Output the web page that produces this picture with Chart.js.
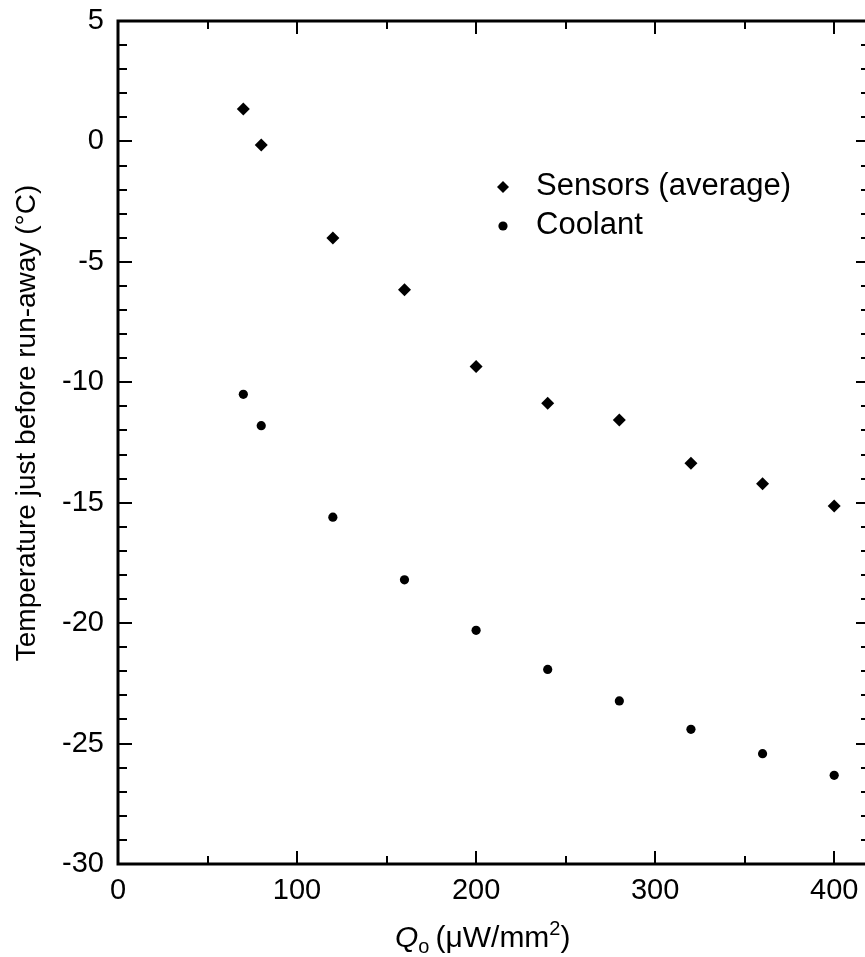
<!DOCTYPE html>
<html>
<head>
<meta charset="utf-8">
<script src="https://cdn.jsdelivr.net/npm/chart.js@4.4.0/dist/chart.umd.min.js"></script>
<style>
    html, body { margin: 0; padding: 0; background: #fff; overflow: hidden; }
    #wrap { width: 880px; height: 957px; }
</style>
</head>
<body>
<div id="wrap"><canvas id="tempChart" width="880" height="957"></canvas></div>
<script>
// Heat load Q0 (uW/mm2)
const qValues = [70, 80, 120, 160, 200, 240, 280, 320, 360, 400];
// Temperatures just before run-away (C)
const sensorTemps = [1.35, -0.15, -4.01, -6.16, -9.34, -10.87, -11.57, -13.36, -14.21, -15.14];
const coolantTemps = [-10.5, -11.8, -15.6, -18.2, -20.3, -21.92, -23.23, -24.41, -25.42, -26.32];

// Axis ticks
const xMajorTicks = [0, 100, 200, 300, 400];
const xMinorTicks = [50, 150, 250, 350];
const yMajorTicks = [-30, -25, -20, -15, -10, -5, 0, 5];
const yMinorTicks = [];
for (let v = -29; v < 5; v++) {
    if (v % 5 !== 0) yMinorTicks.push(v);
}

const FONT = '"Liberation Sans", Arial, Helvetica, sans-serif';

// Frame with inward ticks on all four sides, plus titles and legend
const framePlugin = {
    id: 'frameTicks',
    afterDraw(chart) {
        const { ctx, chartArea: a, scales } = chart;
        const x = scales.x, y = scales.y;
        ctx.save();
        ctx.strokeStyle = '#000';
        ctx.lineWidth = 2;
        ctx.beginPath();
        const tickX = (v, len) => {
            const px = Math.round(x.getPixelForValue(v));
            ctx.moveTo(px, a.bottom); ctx.lineTo(px, a.bottom - len);
            ctx.moveTo(px, a.top); ctx.lineTo(px, a.top + len);
        };
        const tickY = (v, len) => {
            const py = Math.round(y.getPixelForValue(v));
            ctx.moveTo(a.left, py); ctx.lineTo(a.left + len, py);
            ctx.moveTo(a.right, py); ctx.lineTo(a.right - len, py);
        };
        xMajorTicks.forEach(v => tickX(v, 13));
        xMinorTicks.forEach(v => tickX(v, 8));
        yMajorTicks.forEach(v => tickY(v, 14));
        yMinorTicks.forEach(v => tickY(v, 9));
        ctx.stroke();

        ctx.lineWidth = 3;
        ctx.strokeRect(a.left, a.top, a.right - a.left, a.bottom - a.top);

        // x axis title: Q_o (uW/mm^2)
        ctx.fillStyle = '#000';
        ctx.textBaseline = 'alphabetic';
        ctx.textAlign = 'left';
        let cx = 395;
        const base = 947;
        ctx.font = 'italic 30px ' + FONT;
        ctx.fillText('Q', cx, base);
        cx += ctx.measureText('Q').width;
        ctx.font = '20px ' + FONT;
        ctx.fillText('o', cx, base + 6);
        cx += ctx.measureText('o').width + 6;
        ctx.font = '30px ' + FONT;
        ctx.fillText('(\u03bcW/mm', cx, base);
        cx += ctx.measureText('(\u03bcW/mm').width;
        ctx.font = '20px ' + FONT;
        ctx.fillText('2', cx, base - 12);
        cx += ctx.measureText('2').width;
        ctx.font = '30px ' + FONT;
        ctx.fillText(')', cx, base);

        ctx.save();
        ctx.translate(35, 423);
        ctx.rotate(-Math.PI / 2);
        ctx.textAlign = 'center';
        ctx.font = '28px ' + FONT;
        ctx.fillText('Temperature just before run-away (\u00b0C)', 0, 0);
        ctx.restore();

        // legend inside the plot
        ctx.font = '31px ' + FONT;
        ctx.textBaseline = 'middle';
        ctx.textAlign = 'left';
        const lx = 503;
        ctx.beginPath();
        ctx.moveTo(lx, 187 - 6); ctx.lineTo(lx + 6, 187);
        ctx.lineTo(lx, 187 + 6); ctx.lineTo(lx - 6, 187);
        ctx.closePath();
        ctx.fill();
        ctx.fillText('Sensors (average)', 536, 186);
        ctx.beginPath();
        ctx.arc(lx, 226, 4.6, 0, Math.PI * 2);
        ctx.fill();
        ctx.fillText('Coolant', 536, 225);
        ctx.restore();
    }
};

const toPoints = (xs, ys) => xs.map((q, i) => ({ x: q, y: ys[i] }));

new Chart(document.getElementById('tempChart'), {
    type: 'scatter',
    data: {
        datasets: [
            {
                label: 'Sensors (average)',
                data: toPoints(qValues, sensorTemps),
                pointStyle: 'rectRot',
                pointRadius: 6.5,
                backgroundColor: '#000',
                borderColor: '#000',
                borderWidth: 0
            },
            {
                label: 'Coolant',
                data: toPoints(qValues, coolantTemps),
                pointStyle: 'circle',
                pointRadius: 4.6,
                backgroundColor: '#000',
                borderColor: '#000',
                borderWidth: 0
            }
        ]
    },
    options: {
        responsive: false,
        animation: false,
        devicePixelRatio: 1,
        layout: { padding: { top: 21, right: 10, left: 0, bottom: 0 } },
        plugins: {
            legend: { display: false },
            tooltip: { enabled: false }
        },
        scales: {
            x: {
                type: 'linear',
                min: 0,
                max: 420,
                grid: { display: false, drawTicks: false },
                border: { display: false },
                afterBuildTicks: s => { s.ticks = xMajorTicks.map(v => ({ value: v })); },
                afterFit: s => { s.height = 93; s.paddingLeft = 0; s.paddingRight = 0; },
                ticks: {
                    color: '#000',
                    font: { family: FONT, size: 29 },
                    padding: 10,
                    maxRotation: 0,
                    autoSkip: false
                }
            },
            y: {
                type: 'linear',
                min: -30,
                max: 5,
                grid: { display: false, drawTicks: false },
                border: { display: false },
                afterBuildTicks: s => { s.ticks = yMajorTicks.map(v => ({ value: v })); },
                afterFit: s => { s.width = 118; s.paddingTop = 0; s.paddingBottom = 0; },
                ticks: {
                    color: '#000',
                    font: { family: FONT, size: 29 },
                    padding: 14,
                    autoSkip: false
                }
            }
        }
    },
    plugins: [framePlugin]
});
</script>
</body>
</html>
